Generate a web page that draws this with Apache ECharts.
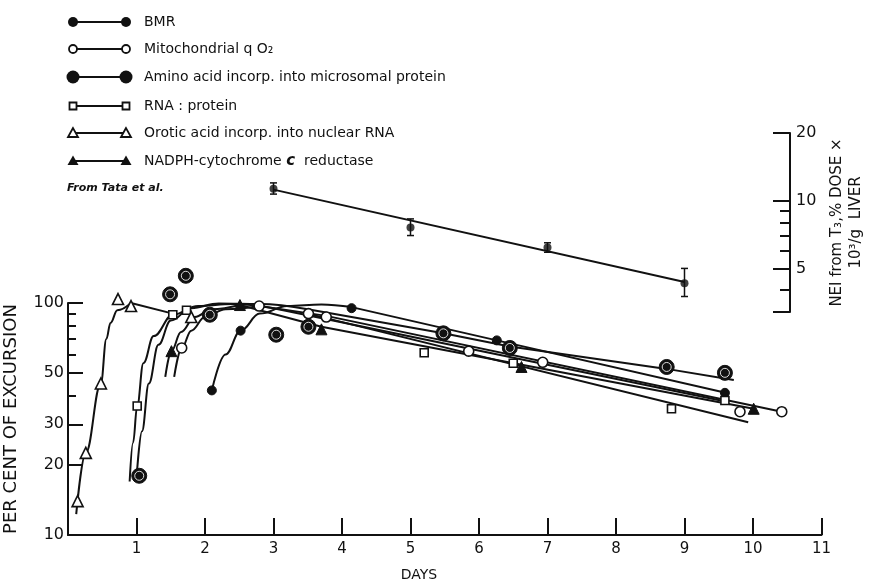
<!DOCTYPE html>
<html><head><meta charset="utf-8">
<script src="https://cdn.jsdelivr.net/npm/echarts@6/dist/echarts.min.js"></script>
<style>html,body{margin:0;padding:0;background:#fff}#c{width:873px;height:581px}</style>
</head><body><div id="c"></div><script>
// ---- tick labels ----
const xTicks = [1,2,3,4,5,6,7,8,9,10,11];
const yMajor = [10,20,30,50,100];
const yMinor = [40,60,70,80,90];
const rMajorTicks = [3.2,5,10,20];
const rLabels = [5,10,20];
const rMinor = [4,6,7,8,9];

// ---- markers (day, per cent of excursion) ----
const bmr    = [[2.10,42],[2.52,76],[4.14,95],[6.26,69],[9.59,41]];
const mito   = [[1.66,64],[2.79,97],[3.51,90],[3.77,87],[5.85,62],[6.93,55.5],[9.81,34],[10.42,34]];
const amino  = [[1.04,18],[1.49,109],[1.72,131],[2.07,89],[3.04,73],[3.51,79],[5.48,74],[6.45,64],[8.74,53],[9.59,50]];
const rna    = [[1.01,36],[1.53,89],[1.73,93],[5.20,61],[6.50,55],[8.81,35],[9.59,38]];
const orotic = [[0.14,14],[0.26,22.6],[0.48,45],[0.73,104],[0.92,97],[1.80,87]];
const nadph  = [[1.51,62],[2.51,98],[3.70,77],[6.62,53],[10.01,35]];

// ---- drawn curves: rising (smooth) and falling (straight) parts ----
const bmrRise    = [[2.10,42],[2.3,60],[2.52,76],[2.8,90],[3.2,97],[3.7,98.5],[4.14,96]];
const bmrFall    = [[4.14,96],[6.26,69],[9.6,41]];
const aminoRise  = [[1.0,17.5],[1.08,28],[1.18,45],[1.32,66],[1.5,84],[1.8,95],[2.2,99.5],[2.8,99],[3.5,94]];
const aminoFall  = [[3.5,94],[5.48,74],[6.45,65],[8.74,52],[9.72,46.6]];
const rnaRise    = [[0.9,17],[0.95,25],[1.01,36],[1.1,55],[1.25,72],[1.53,89],[1.9,97],[2.4,99],[3.0,95]];
const rnaFall    = [[3.0,95],[9.6,37.6]];
const mitoRise   = [[1.55,48],[1.66,64],[1.8,76],[2.0,87],[2.3,94],[2.79,97]];
const mitoFall   = [[2.79,97],[3.77,88],[10.42,34]];
const nadphRise  = [[1.42,48],[1.51,62],[1.65,75],[1.85,87],[2.1,94],[2.51,98]];
const nadphFall  = [[2.51,98],[3.7,79],[10.01,35]];
const oroticRise = [[0.12,12.3],[0.26,22.6],[0.48,45],[0.56,70],[0.62,82],[0.72,93],[0.92,100]];
const oroticMid  = [[0.92,100],[1.53,90]];
const oroticFall = [[3.5,90],[9.93,30.6]];

// ---- NEI from T3 (upper panel) ----
const neiDays = [3,5,7,9];
const neiMean = [11.3,7.6,6.2,4.3];
const neiLow  = [10.7,7.0,5.9,3.75];
const neiHigh = [12.0,8.3,6.5,5.0];
const neiFit  = [[3,11.2],[9,4.35]];

const legendNames = ['BMR','Mitochondrial q O\u2082','Amino acid incorp. into microsomal protein','RNA : protein','Orotic acid incorp. into nuclear RNA','NADPH-cytochrome {c|c}  reductase'];

const FONT = 'DejaVu Sans';
const K = '#111';

const chart = echarts.init(document.getElementById('c'));

function curve(data, smooth){
  return {type:'line', data, xAxisIndex:0, yAxisIndex:0, showSymbol:false, symbol:'none',
    smooth: smooth ? 0.4 : false, smoothMonotone:'x', lineStyle:{color:K,width:2}, silent:true, z:2};
}
function marks(data, symbol, size, fill, border, bw){
  return {type:'scatter', data, xAxisIndex:0, yAxisIndex:0, symbol, symbolSize:size, clip:false,
    itemStyle:{color:fill, borderColor:border, borderWidth:bw, opacity:1}, z:5, silent:true};
}

// legend graphics
const rowsY = [22,49,77,106,133,161];
const lg = [];
function sym(kind, cx, cy){
  switch(kind){
    case 0: return {type:'circle', shape:{cx,cy,r:5}, style:{fill:K}};
    case 1: return {type:'circle', shape:{cx,cy,r:4}, style:{fill:'#fff',stroke:K,lineWidth:1.8}};
    case 2: return {type:'circle', shape:{cx,cy,r:6.5}, style:{fill:K}};
    case 3: return {type:'rect', shape:{x:cx-3.5,y:cy-3.5,width:7,height:7}, style:{fill:'#fff',stroke:K,lineWidth:1.8}};
    case 4: return {type:'polygon', shape:{points:[[cx,cy-5],[cx-5,cy+4],[cx+5,cy+4]]}, style:{fill:'#fff',stroke:K,lineWidth:1.8}};
    case 5: return {type:'polygon', shape:{points:[[cx,cy-5.5],[cx-5.5,cy+4],[cx+5.5,cy+4]]}, style:{fill:K}};
  }
}
legendNames.forEach((name,i)=>{
  const y = rowsY[i];
  lg.push({type:'line', shape:{x1:73,y1:y,x2:126,y2:y}, style:{stroke:K,lineWidth:2.2}});
  lg.push(sym(i,73,y)); lg.push(sym(i,126,y));
  lg.push({type:'text', x:144, y:y, style:{text:name, font:'14px "'+FONT+'"', fill:K, verticalAlign:'middle',
    rich:{c:{fontStyle:'italic',fontWeight:'bold',fontSize:15,fontFamily:FONT}}}});
});
lg.push({type:'text', x:67, y:188, style:{text:'From Tata et al.', font:'italic bold 11px "'+FONT+'"', fill:K, verticalAlign:'middle'}});
lg.push({type:'text', x:419, y:575, style:{text:'DAYS', font:'14px "'+FONT+'"', fill:K, align:'center', verticalAlign:'middle'}});

const option = {
  animation:false,
  backgroundColor:'#fff',
  textStyle:{fontFamily:FONT},
  grid:[
    {left:68, top:303, right:51.5, bottom:46, outerBoundsMode:'none'},
    {left:68, top:133, right:51.5, height:179, outerBoundsMode:'none'},
    {left:0, top:133, right:83, height:179, outerBoundsMode:'none'}
  ],
  xAxis:[
    {gridIndex:0, type:'value', min:0, max:11,
      axisLine:{show:true, onZero:false, lineStyle:{color:K,width:2}},
      axisTick:{show:true, inside:true, length:17, customValues:xTicks, lineStyle:{color:K,width:2}},
      axisLabel:{show:true, customValues:xTicks, color:K, fontSize:15, margin:7, fontFamily:FONT},
      splitLine:{show:false}},
    {gridIndex:1, type:'value', min:0, max:11, show:false},
    {gridIndex:2, type:'value', min:0, max:1, show:false}
  ],
  yAxis:[
    {gridIndex:0, type:'log', logBase:10, min:10, max:100, position:'left',
      axisLine:{show:true, onZero:false, lineStyle:{color:K,width:2}},
      axisTick:{show:true, inside:true, length:15, customValues:yMajor, lineStyle:{color:K,width:2}},
      axisLabel:{show:true, customValues:yMajor, color:K, fontSize:16, margin:4, fontFamily:FONT},
      splitLine:{show:false},
      name:'PER CENT OF EXCURSION', nameLocation:'middle', nameRotate:90, nameGap:48,
      nameTextStyle:{color:K, fontSize:18, fontFamily:FONT}},
    {gridIndex:0, type:'log', logBase:10, min:10, max:100, position:'left',
      axisLine:{show:false, onZero:false},
      axisTick:{show:true, inside:true, length:8, customValues:yMinor, lineStyle:{color:K,width:2}},
      axisLabel:{show:false}, splitLine:{show:false}},
    {gridIndex:1, type:'log', logBase:10, min:3.2, max:20, show:false},
    {gridIndex:2, type:'log', logBase:10, min:3.2, max:20, position:'right',
      axisLine:{show:true, onZero:false, lineStyle:{color:K,width:2}},
      axisTick:{show:true, inside:true, length:17, customValues:rMajorTicks, lineStyle:{color:K,width:2}},
      axisLabel:{show:true, customValues:rLabels, color:K, fontSize:16, margin:6, fontFamily:FONT},
      splitLine:{show:false},
      name:'NEI from T\u2083,% DOSE \u00d7\n10\u00b3/g  LIVER', nameLocation:'middle', nameRotate:90, nameGap:32,
      nameTextStyle:{color:K, fontSize:15, lineHeight:19, fontFamily:FONT, align:'center'}},
    {gridIndex:2, type:'log', logBase:10, min:3.2, max:20, position:'right',
      axisLine:{show:false, onZero:false},
      axisTick:{show:true, inside:true, length:10, customValues:rMinor, lineStyle:{color:K,width:2}},
      axisLabel:{show:false}, splitLine:{show:false}}
  ],
  series:[
    curve(oroticRise,true), curve(oroticMid,false), curve(oroticFall,false),
    curve(rnaRise,true), curve(rnaFall,false),
    curve(aminoRise,true), curve(aminoFall,false),
    curve(mitoRise,true), curve(mitoFall,false),
    curve(nadphRise,true), curve(nadphFall,false),
    curve(bmrRise,true), curve(bmrFall,false),
    marks(bmr,'circle',9,K,K,1),
    marks(mito,'circle',10,'#fff',K,1.6),
    marks(amino,'circle',15,K,K,1),
    marks(amino,'circle',9,K,'#ddd',1),
    marks(rna,'rect',8,'#fff',K,1.6),
    marks(orotic,'triangle',11,'#fff',K,1.6),
    marks(nadph,'triangle',11,K,K,1),
    {type:'line', data:neiFit, xAxisIndex:1, yAxisIndex:2, showSymbol:false, symbol:'none',
      lineStyle:{color:K,width:2}, silent:true},
    {type:'scatter', data:neiDays.map((d,i)=>[d,neiMean[i]]), xAxisIndex:1, yAxisIndex:2,
      symbol:'circle', symbolSize:8, itemStyle:{color:K}, silent:true, z:5},
    {type:'custom', xAxisIndex:1, yAxisIndex:2, silent:true, z:4,
      data: neiDays.map((d,i)=>[d,neiLow[i],neiHigh[i]]),
      renderItem:(params, api)=>{
        const x = api.value(0);
        const lo = api.coord([x, api.value(1)]);
        const hi = api.coord([x, api.value(2)]);
        const w = 3.5, st = {stroke:K, lineWidth:1.5};
        return {type:'group', children:[
          {type:'line', shape:{x1:lo[0],y1:lo[1],x2:hi[0],y2:hi[1]}, style:st},
          {type:'line', shape:{x1:lo[0]-w,y1:lo[1],x2:lo[0]+w,y2:lo[1]}, style:st},
          {type:'line', shape:{x1:hi[0]-w,y1:hi[1],x2:hi[0]+w,y2:hi[1]}, style:st}
        ]};
      }}
  ],
  graphic: lg
};
chart.setOption(option);
</script></body></html>
